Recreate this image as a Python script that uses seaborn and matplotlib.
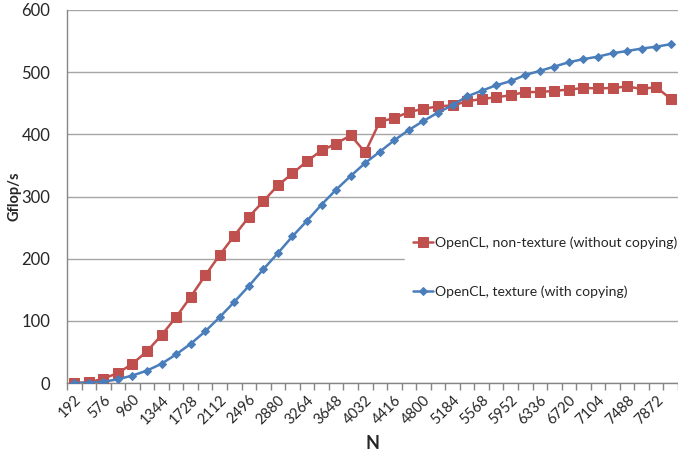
import numpy as np
import pandas as pd
import matplotlib
matplotlib.use("Agg")
import matplotlib.pyplot as plt
import seaborn as sns
from matplotlib.ticker import FixedLocator

N = [192 * k for k in range(1, 43)]
non_texture = [0, 1, 7, 16, 31, 51, 77, 106, 138.5, 173, 206, 237,
               267, 292.5, 318, 337, 357, 374, 385, 398.5, 371, 420.5,
               426, 436, 441, 445, 446.5, 453, 457, 459.5, 463, 468,
               468, 470, 472, 474.5, 474, 474.5, 477, 473, 476, 457]
texture = [0, 0.5, 2, 6, 12, 20, 31, 46, 63, 83, 106, 130.5,
           156, 183, 209, 236, 261, 287, 311, 333, 354, 372,
           390.5, 407, 421.5, 435, 447, 461, 470, 479, 485.5, 495.5,
           502, 509, 516, 521, 525, 530.5, 534, 538, 541, 545]
label_red = "OpenCL, non-texture (without copying)"
label_blue = "OpenCL, texture (with copying)"
tick_labels = [str(n) for n in N[::2]]

sns.set_style("white")
plt.rcParams['font.family'] = ['Lato', 'DejaVu Sans']

fig = plt.figure(figsize=(6.78, 4.54), dpi=100)
ax = fig.add_axes([67/678, 1 - 383/454, 611/678, 373/454])

red = "#C0504D"
blue = "#4A7EBB"
sns.lineplot(x=N, y=non_texture, ax=ax, color=red, marker="s", markersize=6.5,
             markeredgecolor=red, linewidth=1.8, label=label_red, zorder=3)
sns.lineplot(x=N, y=texture, ax=ax, color=blue, marker="D", markersize=4.5,
             markeredgecolor=blue, linewidth=1.8, label=label_blue, zorder=4)

ax.set_xlim(N[0] - 96, N[-1] + 96)
ax.set_ylim(0, 600)
ax.set_yticks(range(0, 601, 100))
ax.yaxis.grid(True, color="#A6A6A6", linewidth=1)
ax.set_axisbelow(True)

ax.set_xticks(N[::2])
ax.set_xticklabels(tick_labels, rotation=45, ha="right", rotation_mode="anchor", fontsize=10.5)
ax.xaxis.set_minor_locator(FixedLocator([n - 96 for n in N] + [N[-1] + 96]))
ax.tick_params(axis="x", which="major", length=0, pad=7)
ax.tick_params(axis="x", which="minor", length=5, color="#868686", width=1, direction="out", bottom=True)
ax.tick_params(axis="y", length=0, labelsize=12, pad=12)

for s in ["top", "right"]:
    ax.spines[s].set_visible(False)
for s in ["left", "bottom"]:
    ax.spines[s].set_color("#868686")
    ax.spines[s].set_linewidth(1)

ax.set_ylabel("Gflop/s", fontsize=10.5, fontweight="bold")
ax.yaxis.set_label_coords(-0.074, 0.5)
ax.set_xlabel("N", fontsize=13, fontweight="bold", labelpad=6)

leg = ax.legend(loc="upper left", bbox_to_anchor=(405/678, 1 - 228/454),
                bbox_transform=fig.transFigure, frameon=True, fancybox=False,
                edgecolor="white", facecolor="white", framealpha=1,
                fontsize=10.1, labelspacing=2.6, handlelength=1.4,
                handletextpad=0.15, borderpad=0.6, borderaxespad=0)
leg.set_zorder(5)

fig.savefig("out.png", dpi=100)
